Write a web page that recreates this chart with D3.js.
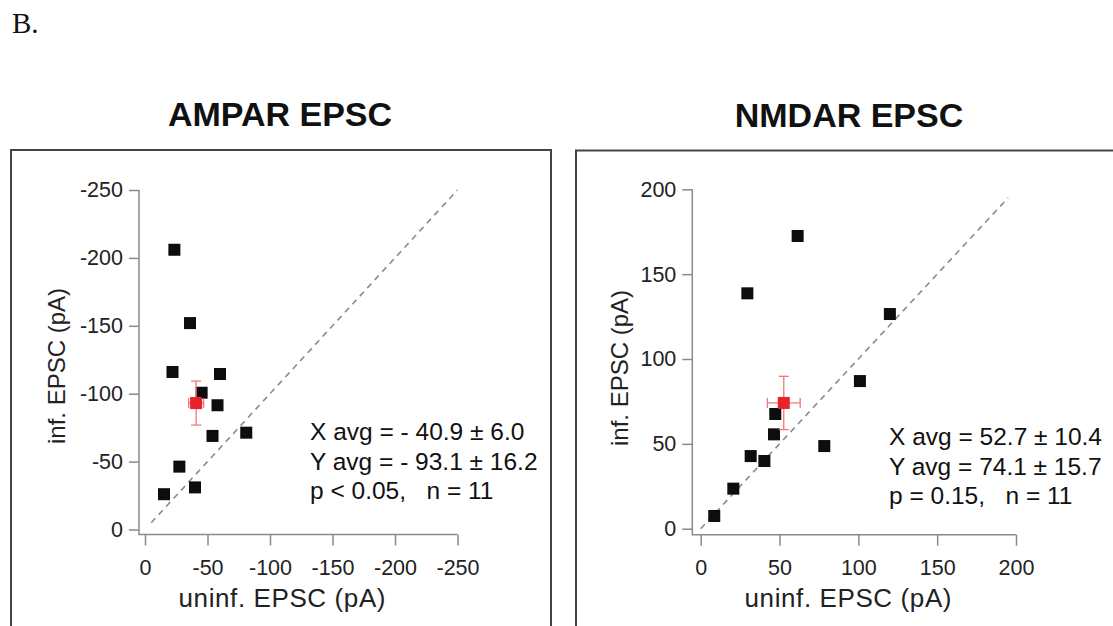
<!DOCTYPE html>
<html>
<head>
<meta charset="utf-8">
<script src="https://cdn.jsdelivr.net/npm/d3@7"></script>
<style>
  body { margin: 0; background: #fff; }
  svg { display: block; }
</style>
</head>
<body>
<svg id="drawing_region"></svg>
<script>
// AMPAR panel values (pA), uninfected vs infected
const ampaUninf = [-23.5, -36, -22, -60, -45.3, -58, -54, -81, -27.5, -40, -15.2];
const ampaInf   = [-206, -152, -116, -114.5, -100.7, -91.5, -68.9, -71.3, -46.3, -31, -26];
const ampaMean  = [-40.9, -93.1];
const ampaSem   = [6.0, 16.2];
const ampaTicks = [0, -50, -100, -150, -200, -250];
const ampaDiag  = [-5, -250];
const ampaStats = ["X avg = - 40.9 \u00b1 6.0", "Y avg = - 93.1 \u00b1 16.2", "p < 0.05,   n = 11"];

// NMDAR panel values (pA)
const nmdaUninf = [61.5, 29.6, 101, 47.3, 46.5, 78.4, 31.7, 40.4, 20.7, 8.6, 120];
const nmdaInf   = [172.5, 138.7, 87, 67.6, 55.6, 48.7, 42.8, 39.9, 23.6, 7.5, 126.5];
const nmdaMean  = [52.7, 74.1];
const nmdaSem   = [10.4, 15.7];
const nmdaTicks = [0, 50, 100, 150, 200];
const nmdaDiag  = [0, 195];
const nmdaStats = ["X avg = 52.7 \u00b1 10.4", "Y avg = 74.1 \u00b1 15.7", "p = 0.15,   n = 11"];

const FONT = "'Liberation Sans', Arial, Helvetica, sans-serif";

const svg = d3.select('#drawing_region')
    .attr('width', 1113)
    .attr('height', 626);

svg.append('text')
    .attr('x', 12)
    .attr('y', 33)
    .attr('font-family', "'Liberation Serif', 'Times New Roman', serif")
    .attr('font-size', 29)
    .attr('fill', '#111')
    .text('B.');

class ScatterPanel {

    constructor( config, data ) {
        this.config = config;
        this.data = data;
        this.init();
    }

    init() {
        let self = this;
        const c = self.config;

        self.g = svg.append('g');

        // frame
        self.g.append('rect')
            .attr('x', c.frame[0])
            .attr('y', c.frame[1])
            .attr('width', c.frame[2])
            .attr('height', c.frame[3])
            .attr('fill', 'none')
            .attr('stroke', '#444')
            .attr('stroke-width', 2);

        self.xscale = d3.scaleLinear()
            .domain([c.ticks[0], c.ticks[c.ticks.length-1]])
            .range(c.xrange);

        self.yscale = d3.scaleLinear()
            .domain([c.ticks[0], c.ticks[c.ticks.length-1]])
            .range(c.yrange);

        self.axisY = self.yscale(c.ticks[0]) + c.xAxisGap;
        self.axisX = self.xscale(c.ticks[0]) - c.yAxisGap;
    }

    render() {
        let self = this;
        const c = self.config;
        const fmt = d => String(d);

        const xaxis = d3.axisBottom(self.xscale)
            .tickValues(c.ticks).tickSize(11).tickPadding(14).tickFormat(fmt);
        const yaxis = d3.axisLeft(self.yscale)
            .tickValues(c.ticks).tickSize(10).tickPadding(6).tickFormat(fmt);

        const xg = self.g.append('g')
            .attr('transform', `translate(0, ${self.axisY})`)
            .call(xaxis);
        const yg = self.g.append('g')
            .attr('transform', `translate(${self.axisX}, 0)`)
            .call(yaxis);

        [xg, yg].forEach(g => {
            g.select('.domain').remove();
            g.selectAll('.tick line').attr('stroke', '#8a8a8a').attr('stroke-width', 1.5);
            g.selectAll('.tick text')
                .attr('font-family', FONT)
                .attr('font-size', 21.5)
                .attr('fill', '#222');
        });

        const last = c.ticks[c.ticks.length-1];
        self.g.append('path')
            .attr('d', `M${self.axisX},${self.yscale(last)}V${self.axisY}H${self.xscale(last)}`)
            .attr('fill', 'none')
            .attr('stroke', '#8a8a8a')
            .attr('stroke-width', 1.5);

        // identity line
        self.g.append('line')
            .attr('x1', self.xscale(c.diag[0]))
            .attr('y1', self.yscale(c.diag[0]))
            .attr('x2', self.xscale(c.diag[1]))
            .attr('y2', self.yscale(c.diag[1]))
            .attr('stroke', '#8a8a8a')
            .attr('stroke-width', 1.6)
            .attr('stroke-dasharray', '6,5');

        const s = 12;
        self.g.selectAll('rect.pt')
            .data(self.data.x.map((x, i) => ({x: x, y: self.data.y[i]})))
            .enter()
            .append('rect')
            .attr('class', 'pt')
            .attr('x', d => self.xscale(d.x) - s/2)
            .attr('y', d => self.yscale(d.y) - s/2)
            .attr('width', s)
            .attr('height', s)
            .attr('fill', '#0d0d0d');

        // mean +/- sem
        const mx = self.data.mean[0], my = self.data.mean[1];
        const ex = self.data.sem[0], ey = self.data.sem[1];
        const cx = self.xscale(mx), cy = self.yscale(my);
        const err = self.g.append('g')
            .attr('stroke', '#f07878')
            .attr('stroke-width', 1.3);
        err.append('line')
            .attr('x1', self.xscale(mx - ex)).attr('x2', self.xscale(mx + ex))
            .attr('y1', cy).attr('y2', cy);
        err.append('line')
            .attr('x1', cx).attr('x2', cx)
            .attr('y1', self.yscale(my - ey)).attr('y2', self.yscale(my + ey));
        [mx - ex, mx + ex].forEach(v => {
            err.append('line')
                .attr('x1', self.xscale(v)).attr('x2', self.xscale(v))
                .attr('y1', cy - 5).attr('y2', cy + 5);
        });
        [my - ey, my + ey].forEach(v => {
            err.append('line')
                .attr('x1', cx - 5).attr('x2', cx + 5)
                .attr('y1', self.yscale(v)).attr('y2', self.yscale(v));
        });
        self.g.append('rect')
            .attr('x', cx - s/2)
            .attr('y', cy - s/2)
            .attr('width', s)
            .attr('height', s)
            .attr('fill', '#e8232b');

        // title
        self.g.append('text')
            .attr('x', c.title[1])
            .attr('y', c.title[2])
            .attr('text-anchor', 'middle')
            .attr('font-family', FONT)
            .attr('font-weight', 'bold')
            .attr('font-size', 34)
            .attr('fill', '#111')
            .text(c.title[0]);

        // axis labels
        self.g.append('text')
            .attr('x', c.xlabelPos[0])
            .attr('y', c.xlabelPos[1])
            .attr('text-anchor', 'middle')
            .attr('font-family', FONT)
            .attr('font-size', 26)
            .attr('fill', '#222')
            .attr('textLength', 207)
            .attr('lengthAdjust', 'spacing')
            .text('uninf. EPSC (pA)');

        self.g.append('text')
            .attr('transform', `translate(${c.ylabelPos[0]}, ${c.ylabelPos[1]}) rotate(-90)`)
            .attr('text-anchor', 'middle')
            .attr('font-family', FONT)
            .attr('font-size', 24)
            .attr('fill', '#222')
            .attr('textLength', 156)
            .attr('lengthAdjust', 'spacing')
            .text('inf. EPSC (pA)');

        // stats text
        self.g.selectAll('text.stat')
            .data(c.stats)
            .enter()
            .append('text')
            .attr('class', 'stat')
            .attr('x', c.statsPos[0])
            .attr('y', (d, i) => c.statsPos[1] + i * 29.5)
            .attr('font-family', FONT)
            .attr('font-size', 24.5)
            .attr('fill', '#111')
            .style('white-space', 'pre')
            .text(d => d);
    }
}

const ampa = new ScatterPanel({
    frame: [11, 150, 540, 520],
    ticks: ampaTicks,
    xrange: [145, 457.5],
    yrange: [529.5, 190],
    xAxisGap: 5,
    yAxisGap: 6,
    diag: ampaDiag,
    title: ['AMPAR EPSC', 280, 126],
    xlabelPos: [282, 607],
    ylabelPos: [65, 366],
    statsPos: [310, 440],
    stats: ampaStats
}, { x: ampaUninf, y: ampaInf, mean: ampaMean, sem: ampaSem });
ampa.render();

const nmda = new ScatterPanel({
    frame: [576, 150.5, 600, 520],
    ticks: nmdaTicks,
    xrange: [700.7, 1016],
    yrange: [528.7, 189.3],
    xAxisGap: 6,
    yAxisGap: 8.4,
    diag: nmdaDiag,
    title: ['NMDAR EPSC', 849, 127],
    xlabelPos: [848, 607],
    ylabelPos: [628, 368],
    statsPos: [889, 445],
    stats: nmdaStats
}, { x: nmdaUninf, y: nmdaInf, mean: nmdaMean, sem: nmdaSem });
nmda.render();
</script>
</body>
</html>
